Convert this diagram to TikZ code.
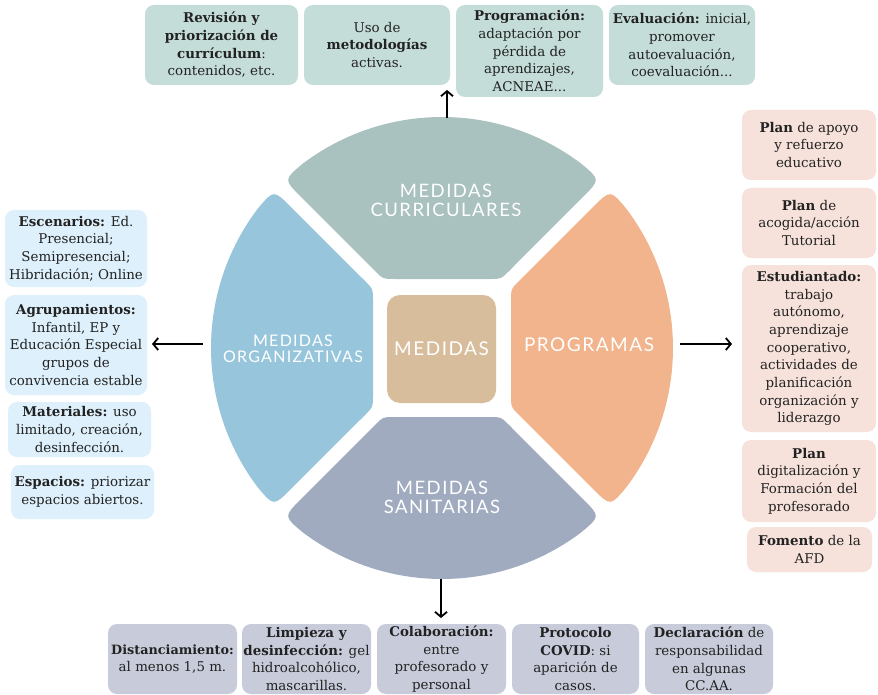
\documentclass[tikz,border=0pt]{standalone}
\usepackage{fontspec}
\setmainfont{DejaVu Serif}
\newfontfamily\labfont{Lato}[LetterSpace=8]
\usetikzlibrary{arrows.meta}
\definecolor{curc}{HTML}{A9C1BF}
\definecolor{orgc}{HTML}{97C6DC}
\definecolor{proc}{HTML}{F1B48C}
\definecolor{sanc}{HTML}{A1ABC0}
\definecolor{medc}{HTML}{D7BD9C}
\definecolor{topc}{HTML}{C4DDD8}
\definecolor{leftc}{HTML}{DDF0FB}
\definecolor{rightc}{HTML}{F6E2DB}
\definecolor{botc}{HTML}{C8CCDA}
\definecolor{txt}{HTML}{222222}
\tikzset{
  bx/.style={rounded corners=9pt, align=center, inner sep=0pt, text=txt,
    font=\fontsize{13.4}{17.7}\selectfont},
  topbox/.style={bx, fill=topc},
  leftbox/.style={bx, fill=leftc},
  rightbox/.style={bx, fill=rightc},
  botbox/.style={bx, fill=botc},
  lab/.style={text=white, align=center},
  conn/.style={draw=black, line width=1.8pt, -{Straight Barb[length=5pt,width=12pt]}}
}
\newcommand\mybox[7]{\node[#2, minimum width={#5-#3}, minimum height={#6-#4}] (#1) at ({(#3+#5)/2},{(#4+#6)/2}) {#7};}
\newcommand\petal[2]{%
  \begin{scope}[rotate=#1]
  \fill[#2] (0,69) -- (48,69) .. controls (59,69) .. (66.8,76.8) -- (141.2,151.3)
    .. controls (158.2,168.3) .. (52.7:231)
    arc[start angle=52.7, end angle=127.3, radius=231pt]
    .. controls (-158.2,168.3) .. (-141.2,151.3) -- (-66.8,76.8)
    .. controls (-59,69) .. (-48,69) -- cycle;
  \end{scope}}
\begin{document}
\begin{tikzpicture}[x=1pt, y=-1pt]
\useasboundingbox[fill=white] (0,0) rectangle (878,695);
% central wheel
\begin{scope}[shift={(442,348)}, x=1pt, y=1pt]
  \petal{0}{curc}
  \petal{90}{orgc}
  \petal{180}{sanc}
  \petal{270}{proc}
\end{scope}
\node[fill=medc, rounded corners=13pt, minimum width=109pt, minimum height=108pt, inner sep=0pt] (med) at (441.5,349) {};
\node[lab, font=\labfont\fontsize{19}{20}\selectfont] (medl) at (med) {MEDIDAS};
\node[lab, font=\labfont\fontsize{18.5}{19}\selectfont] (curl) at (446,200) {MEDIDAS\\CURRICULARES};
\node[lab, font=\labfont\fontsize{16}{16}\selectfont] (orgl) at (293,349) {MEDIDAS\\ORGANIZATIVAS};
\node[lab, font=\labfont\fontsize{19}{19}\selectfont] (prol) at (589,345) {PROGRAMAS};
\node[lab, font=\labfont\fontsize{18.5}{19}\selectfont] (sanl) at (442,497) {MEDIDAS\\SANITARIAS};
% top boxes
\mybox{t1}{topbox}{145}{5}{298}{85}{\textbf{Revisión y}\\\textbf{priorización de}\\\textbf{currículum}:\\contenidos, etc.}
\mybox{t2}{topbox}{304}{5}{450}{85}{Uso de\\\textbf{metodologías}\\activas.}
\mybox{t3}{topbox}{456}{5}{603}{97}{\textbf{Programación:}\\adaptación por\\pérdida de\\aprendizajes,\\ACNEAE...}
\mybox{t4}{topbox}{609}{5}{755}{85}{\textbf{Evaluación:} inicial,\\promover\\autoevaluación,\\coevaluación...}
% left boxes
\mybox{l1}{leftbox}{5}{210}{147}{287}{\textbf{Escenarios:} Ed.\\Presencial;\\Semipresencial;\\Hibridación; Online}
\mybox{l2}{leftbox}{5}{295}{147}{395}{\textbf{Agrupamientos:}\\Infantil, EP y\\Educación Especial\\grupos de\\convivencia estable}
\mybox{l3}{leftbox}{8}{402}{151}{457}{\textbf{Materiales:} uso\\limitado, creación,\\desinfección.}
\mybox{l4}{leftbox}{11}{465}{154}{519}{\textbf{Espacios:} priorizar\\espacios abiertos.}
% right boxes
\mybox{r1}{rightbox}{742}{110}{876}{180}{\textbf{Plan} de apoyo\\y refuerzo\\educativo}
\mybox{r2}{rightbox}{742}{188}{876}{258}{\textbf{Plan} de\\acogida/acción\\Tutorial}
\mybox{r3}{rightbox}{742}{265}{876}{432}{\textbf{Estudiantado:}\\trabajo\\autónomo,\\aprendizaje\\cooperativo,\\actividades de\\planificación\\organización y\\liderazgo}
\mybox{r4}{rightbox}{742}{440}{876}{522}{\textbf{Plan}\\digitalización y\\Formación del\\profesorado}
\mybox{r5}{rightbox}{747}{527}{872}{572}{\textbf{Fomento} de la\\AFD}
% bottom boxes
\mybox{b1}{botbox}{108}{624}{237}{694}{{\fontsize{12.8}{17.7}\selectfont\textbf{Distanciamiento:}}\\al menos 1,5 m.}
\mybox{b2}{botbox}{242}{624}{371}{694}{\textbf{Limpieza y}\\\textbf{desinfección:} gel\\hidroalcohólico,\\mascarillas.}
\mybox{b3}{botbox}{377}{624}{506}{694}{\textbf{Colaboración:}\\entre\\profesorado y\\personal}
\mybox{b4}{botbox}{512}{624}{639}{694}{\textbf{Protocolo}\\\textbf{COVID}: si\\aparición de\\casos.}
\mybox{b5}{botbox}{645}{624}{773}{694}{\textbf{Declaración} de\\responsabilidad\\en algunas\\CC.AA.}
% connectors
\coordinate (curTop) at (447,118);
\coordinate (curTip) at (447,90);
\coordinate (orgOut) at (203,344);
\coordinate (orgTip) at (152,344);
\coordinate (proOut) at (680,344);
\coordinate (proTip) at (732,344);
\coordinate (sanOut) at (441,579);
\coordinate (sanTip) at (441,618);
\draw[conn] (curTop) -- (curTip);
\draw[conn] (orgOut) -- (orgTip);
\draw[conn] (proOut) -- (proTip);
\draw[conn] (sanOut) -- (sanTip);
\end{tikzpicture}
\end{document}
